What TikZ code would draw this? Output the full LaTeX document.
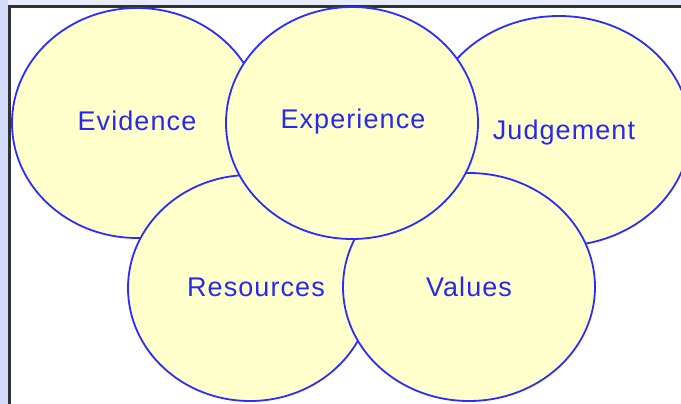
\documentclass[tikz,border=0pt]{standalone}
\usepackage{fontspec}
\setmainfont{Liberation Sans}[LetterSpace=4]
\usetikzlibrary{shapes.geometric}
\definecolor{fillc}{RGB}{255,255,204}
\definecolor{edgec}{RGB}{44,44,255}
\definecolor{txtc}{RGB}{40,40,240}
\definecolor{stripc}{RGB}{210,220,250}
\definecolor{stript}{RGB}{232,236,250}
\definecolor{framec}{RGB}{50,50,50}
\begin{document}
\begin{tikzpicture}[x=1pt,y=-1pt,
  ell/.style={ellipse, draw=edgec, fill=fillc, line width=1.8pt, inner sep=0pt},
  lbl/.style={text=txtc, font=\fontsize{27}{32}\selectfont, inner sep=0pt, text height=19pt, text depth=0pt}]
\useasboundingbox (0,0) rectangle (681,404);
% background and frame
\fill[white] (0,0) rectangle (681,404);
\fill[stript] (0,0) rectangle (681,5);
\fill[stripc] (0,0) rectangle (8,404);
\draw[framec, line width=2.6pt] (9.3,404) -- (9.3,6.3) -- (681,6.3);
% ellipses (bottom to top)
\node[ell, minimum width=250pt, minimum height=230pt] (evidence) at (137,123) {};
\node[ell, minimum width=262pt, minimum height=230pt] (judgement) at (559,131) {};
\node[ell, minimum width=244pt, minimum height=226pt] (resources) at (250,288) {};
\node[ell, minimum width=252pt, minimum height=228pt] (values) at (469,287) {};
\node[ell, minimum width=252pt, minimum height=232pt] (experience) at (352,123) {};
% labels
\node[lbl] (tevidence) at (137,121) {Evidence};
\node[lbl] (texperience) at (353,119) {Experience};
\node[lbl] (tjudgement) at (564,130) {Judgement};
\node[lbl] (tresources) at (256,287) {Resources};
\node[lbl] (tvalues) at (469,287) {Values};
\end{tikzpicture}
\end{document}
